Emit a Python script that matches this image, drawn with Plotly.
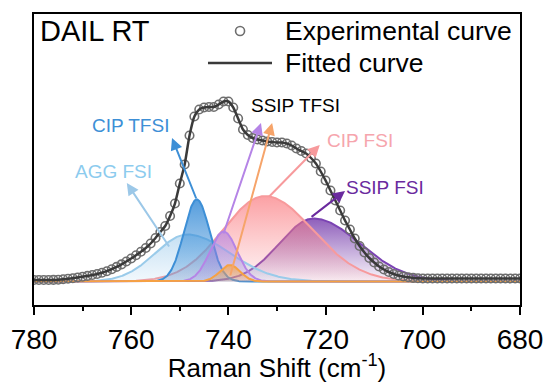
import numpy as np
import plotly.graph_objects as go

# ---------------- data ----------------
raman_shift = list(range(780, 679, -1))  # cm-1, 1 cm-1 step
exp_intensity = [
    0.015, 0.015, 0.015, 0.015, 0.016, 0.018, 0.022, 0.027, 0.033, 0.040,   # 780-771
    0.048, 0.056, 0.065, 0.075, 0.087, 0.103, 0.123, 0.146, 0.171, 0.200,   # 770-761
    0.230, 0.263, 0.297, 0.335, 0.380, 0.435, 0.495, 0.555, 0.655, 0.780,   # 760-751
    0.980, 1.170, 1.460, 1.650, 1.720, 1.740, 1.745, 1.745, 1.770, 1.800,   # 750-741
    1.800, 1.740, 1.630, 1.520, 1.465, 1.435, 1.420, 1.410, 1.400, 1.395,   # 740-731
    1.390, 1.390, 1.380, 1.360, 1.330, 1.305, 1.280, 1.235, 1.180, 1.100,   # 730-721
    1.010, 0.910, 0.810, 0.710, 0.610, 0.520, 0.430, 0.355, 0.290, 0.235,   # 720-711
    0.190, 0.150, 0.120, 0.095, 0.075, 0.060, 0.050, 0.042, 0.036, 0.032,   # 710-701
    0.030, 0.030, 0.030, 0.030, 0.030, 0.030, 0.030, 0.030, 0.030, 0.030,   # 700-691
    0.030, 0.030, 0.030, 0.030, 0.030, 0.030, 0.030, 0.030, 0.030, 0.030,   # 690-681
    0.030,                                                                   # 680
]

# fitted component peaks (drawing order: back to front)
peak_names = ["SSIP FSI", "CIP FSI", "AGG FSI", "CIP TFSI", "SSIP TFSI", "SSIP TFSI (2)"]
peak_centers = [722.5, 732.5, 748.5, 746.5, 741.0, 739.7]
peak_heights = [0.63, 0.855, 0.47, 0.82, 0.50, 0.165]
peak_sigma_high = [7.0, 8.6, 6.5, 2.65, 2.8, 2.1]   # width on high-wavenumber side
peak_sigma_low = [9.5, 9.8, 8.8, 2.65, 2.8, 2.1]    # width on low-wavenumber side

tick_values = [780, 760, 740, 720, 700, 680]

# ---------------- styles ----------------
line_colors = ["#7b43b3", "#f79a9c", "#9acbea", "#3d8fd6", "#b584e6", "#f6a143"]
fill_top = ["rgba(115,55,170,0.80)", "rgba(250,120,125,0.70)", "rgba(150,200,235,0.55)",
            "rgba(55,140,215,0.85)", "rgba(175,125,225,0.65)", "rgba(246,165,70,0.75)"]
fill_bottom = ["rgba(115,55,170,0.04)", "rgba(250,140,145,0.10)", "rgba(150,200,235,0.12)",
               "rgba(55,140,215,0.25)", "rgba(175,125,225,0.15)", "rgba(246,165,70,0.20)"]

FONT = "Liberation Sans, Arial, sans-serif"

fig = go.Figure()

xg = np.linspace(780, 680, 1001)
for i in range(len(peak_names)):
    c = peak_centers[i]
    s = np.where(xg >= c, peak_sigma_high[i], peak_sigma_low[i])
    yg = peak_heights[i] * np.exp(-0.5 * ((xg - c) / s) ** 2)
    fig.add_trace(go.Scatter(
        x=xg, y=yg, mode="lines", name=peak_names[i],
        line=dict(color=line_colors[i], width=2),
        fill="tozeroy",
        fillgradient=dict(type="vertical",
                          colorscale=[[0, fill_bottom[i]], [1, fill_top[i]]],
                          start=0, stop=peak_heights[i]),
        showlegend=False, hoverinfo="skip",
    ))

# experimental points
fig.add_trace(go.Scatter(
    x=raman_shift, y=exp_intensity, mode="markers", name="Experimental curve",
    marker=dict(symbol="circle-open", size=8.5, color="#6e6e6e", line=dict(width=1.6)),
    showlegend=False,
))
# fitted curve
fig.add_trace(go.Scatter(
    x=raman_shift, y=exp_intensity, mode="lines", name="Fitted curve",
    line=dict(color="#3a3a3a", width=2.5, shape="spline", smoothing=0.6),
    showlegend=False,
))

annotations = []
# arrows: (head x, head y, tail x, tail y, color)
arrows = [
    (751.6, 1.435, 746.5, 0.815, "#3d8fd6"),
    (760.9, 0.985, 752.0, 0.335, "#9cc8e8"),
    (733.3, 1.585, 741.1, 0.465, "#b584e6"),
    (731.0, 1.585, 739.7, 0.045, "#f6a46a"),
    (721.2, 1.365, 731.9, 0.835, "#f79a9c"),
    (716.0, 0.905, 723.2, 0.635, "#6a2a9e"),
]
for hx, hy, tx, ty, col in arrows:
    annotations.append(dict(x=hx, y=hy, ax=tx, ay=ty, xref="x", yref="y", axref="x", ayref="y",
                            text="", showarrow=True, arrowhead=2, arrowsize=1.2,
                            arrowwidth=2, arrowcolor=col, standoff=0, startstandoff=0))

labels = [
    ("CIP TFSI", 760.2, 1.565, "#3d8fd6"),
    ("AGG FSI", 763.7, 1.105, "#8ccbee"),
    ("SSIP TFSI", 726.1, 1.765, "#000000"),
    ("CIP FSI", 712.9, 1.415, "#f6a5ad"),
    ("SSIP FSI", 707.8, 0.945, "#6a2a9e"),
]
for t, x, y, col in labels:
    annotations.append(dict(x=x, y=y, xref="x", yref="y", text=t, showarrow=False,
                            font=dict(family=FONT, size=19, color=col),
                            xanchor="center", yanchor="middle"))

# title text and manual legend
annotations.append(dict(x=0.008, y=0.9416, xref="paper", yref="paper", text="DAIL RT",
                        showarrow=False, xanchor="left", yanchor="middle",
                        font=dict(family=FONT, size=29, color="#000000")))
annotations.append(dict(x=0.512, y=0.9416, xref="paper", yref="paper", text="Experimental curve",
                        showarrow=False, xanchor="left", yanchor="middle",
                        font=dict(family=FONT, size=26.5, color="#000000")))
annotations.append(dict(x=0.512, y=0.8316, xref="paper", yref="paper", text="Fitted curve",
                        showarrow=False, xanchor="left", yanchor="middle",
                        font=dict(family=FONT, size=26.5, color="#000000")))

shapes = [
    dict(type="circle", xref="paper", yref="paper", xsizemode="pixel", ysizemode="pixel",
         xanchor=0.424, yanchor=0.9416, x0=-4.5, x1=4.5, y0=-4.5, y1=4.5,
         line=dict(color="#6e6e6e", width=1.6)),
    dict(type="line", xref="paper", yref="paper", x0=0.358, x1=0.4897, y0=0.8316, y1=0.8316,
         line=dict(color="#3a3a3a", width=2.5)),
]

fig.update_layout(
    width=545, height=383,
    margin=dict(l=34, r=25, t=14, b=78, autoexpand=False),
    paper_bgcolor="white", plot_bgcolor="white",
    annotations=annotations, shapes=shapes,
    showlegend=False,
    xaxis=dict(
        range=[780, 680], tickmode="array", tickvals=tick_values,
        ticks="outside", ticklen=8, tickwidth=2, tickcolor="black",
        minor=dict(dtick=10, ticks="outside", ticklen=4, tickwidth=2, tickcolor="black"),
        showline=True, linecolor="black", linewidth=2, mirror=True,
        showgrid=False, zeroline=False, automargin=False,
        tickfont=dict(family=FONT, size=28, color="black"),
        title=dict(text="Raman Shift (cm<sup>-1</sup>)", standoff=8,
                   font=dict(family=FONT, size=26, color="black")),
    ),
    yaxis=dict(
        range=[-0.235, 2.675], showticklabels=False, ticks="",
        showline=True, linecolor="black", linewidth=2, mirror=True,
        showgrid=False, zeroline=False, automargin=False,
    ),
)

fig.write_html("out.html")
